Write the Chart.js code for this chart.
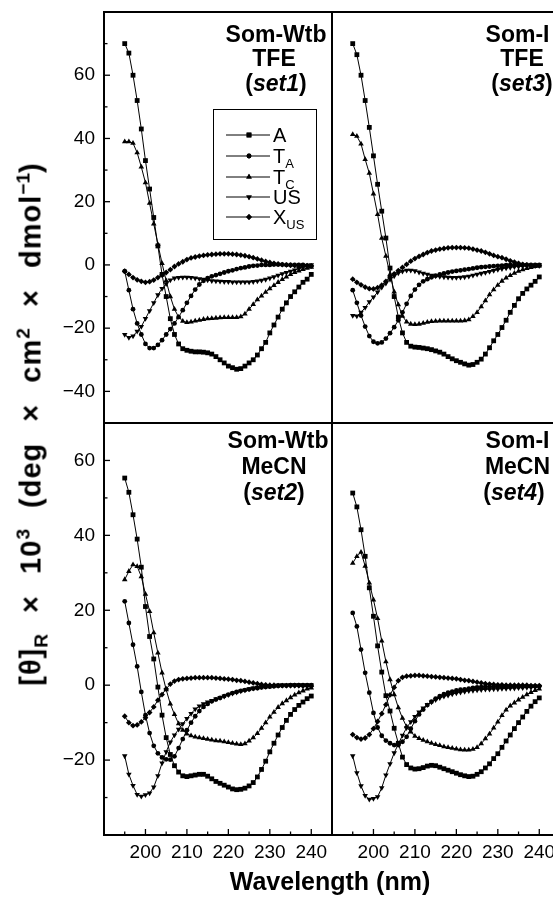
<!DOCTYPE html>
<html><head><meta charset="utf-8">
<script src="https://cdn.jsdelivr.net/npm/chart.js@4.4.1/dist/chart.umd.min.js"></script>
<style>
html,body{margin:0;padding:0;background:#fff;}
#wrap{position:relative;width:553px;height:900px;overflow:hidden;background:#fff;}
canvas{position:absolute;}
#ytitle{position:absolute;left:31px;top:424px;transform:translate(-50%,-50%) rotate(-90deg);white-space:nowrap;font:bold 29px "Liberation Sans",Arial,sans-serif;letter-spacing:1px;word-spacing:12px;color:#000;line-height:1;}
#ytitle sub,#ytitle sup{font-size:0.66em;line-height:0;letter-spacing:0;}
#xtitle{position:absolute;left:330px;top:869px;transform:translateX(-50%);white-space:nowrap;font:bold 25px "Liberation Sans",Arial,sans-serif;color:#000;line-height:1;}
</style></head><body>
<div id="wrap">
<canvas id="cTL" width="340" height="432" style="left:0px;top:0px;width:340px;height:432px"></canvas>
<canvas id="cTR" width="244" height="432" style="left:324px;top:0px;width:244px;height:432px"></canvas>
<canvas id="cBL" width="340" height="485" style="left:0px;top:415px;width:340px;height:485px"></canvas>
<canvas id="cBR" width="244" height="485" style="left:324px;top:415px;width:244px;height:485px"></canvas>
<div id="ytitle">[θ]<sub>R</sub> × 10<sup>3</sup> (deg × cm<sup>2</sup> × dmol<sup>−1</sup>)</div>
<div id="xtitle">Wavelength (nm)</div>
</div>
<script>
// ---------- data ----------
const wavelengths = [195,196,197,198,199,200,201,202,203,204,205,206,207,208,209,210,211,212,213,214,215,216,217,218,219,220,221,222,223,224,225,226,227,228,229,230,231,232,233,234,235,236,237,238,239,240];
const seriesNames = ['A','T_A','T_C','US','X_US'];
const xTickLabels = [200,210,220,230,240];
const yTickLabelsTop = [-40,-20,0,20,40,60];
const yTickLabelsBottom = [-20,0,20,40,60];

// set1: Som-Wtb, TFE
const set1A  = [70,67,60,52,43,33,24,15,6,-3,-10,-17,-22,-25,-26.5,-27,-27.3,-27.5,-27.5,-27.6,-27.8,-28.2,-29,-30,-31,-32,-32.5,-33,-32.8,-32,-31,-30,-28.5,-26.5,-24.5,-21.5,-19,-16.5,-14,-12,-10,-8.5,-7,-5.5,-4.5,-3];
const set1TA = [-2,-8,-14,-18.5,-22,-25,-26.3,-26.3,-25.3,-23.8,-22,-20.3,-18.5,-16.5,-14.3,-12,-9.8,-7.8,-6.2,-5,-4.2,-3.6,-3.2,-2.8,-2.4,-2,-1.7,-1.3,-1,-0.8,-0.5,-0.3,-0.2,0,0,0,0.1,0.1,0.1,0,0,0,0,0,-0.2,-0.4];
const set1TC = [39,39,38.5,35.5,31,26,19.5,13,6.5,0.5,-5,-10,-14,-16.5,-17.8,-18.2,-18,-17.7,-17.5,-17.2,-17,-16.9,-16.8,-16.7,-16.6,-16.6,-16.6,-16.6,-16.4,-15.5,-14,-12.5,-11,-9.8,-8.6,-7.5,-6.5,-5.5,-4.6,-3.8,-3,-2.4,-1.9,-1.4,-1,-0.7];
const set1US = [-22,-23,-22.5,-21,-19.5,-17,-14.5,-12,-9.5,-7.5,-6,-4.8,-4.2,-4,-3.9,-3.9,-4,-4.2,-4.4,-4.6,-4.8,-5,-5.1,-5.2,-5.3,-5.3,-5.4,-5.4,-5.4,-5.4,-5.4,-5.3,-5.1,-4.9,-4.6,-4.2,-3.8,-3.3,-2.8,-2.4,-2,-1.6,-1.2,-0.8,-0.4,0];
const set1XUS = [-2,-3,-4,-4.7,-5.2,-5.5,-5.3,-4.8,-4,-3.2,-2.4,-1.5,-0.5,0.3,1,1.7,2.2,2.5,2.8,3,3.2,3.3,3.4,3.5,3.5,3.5,3.4,3.3,3.1,2.9,2.6,2.3,1.9,1.5,1.1,0.8,0.5,0.3,0.1,0,-0.1,-0.2,-0.2,-0.2,-0.2,-0.3];

// set3: Som-I, TFE
const set3A  = [70,66.5,60,52,43.5,34.5,25.5,17,8.5,-1,-10,-16.5,-21.5,-24.5,-25.7,-26,-26.1,-26.3,-26.5,-26.8,-27.2,-27.6,-28.2,-29,-29.7,-30.3,-30.8,-31.3,-31.7,-31.5,-30.8,-29.8,-28.2,-26.2,-24,-22,-19.8,-17.5,-15,-12.8,-10.7,-9,-7.6,-6.4,-5.2,-3.8];
const set3TA = [-8,-12,-16,-19.5,-22.5,-24.3,-24.8,-24.5,-23.3,-21.6,-19.7,-17.5,-15,-12.3,-9.8,-7.8,-6.3,-5.2,-4.5,-3.9,-3.4,-3,-2.7,-2.4,-2.1,-1.9,-1.7,-1.5,-1.3,-1.1,-0.9,-0.7,-0.6,-0.5,-0.4,-0.3,-0.2,-0.1,0,0,0,0,0,0,0,0];
const set3TC = [41.3,40.7,38.3,33.4,29,22.5,16,8.5,2.8,-3,-8.5,-12.6,-16.2,-18,-18.7,-18.8,-18.7,-18.4,-18.1,-17.9,-17.8,-17.7,-17.7,-17.7,-17.7,-17.7,-17.7,-17.6,-17.3,-16.3,-15,-13.2,-11.3,-9.4,-7.8,-6.4,-5.1,-4.1,-3.3,-2.6,-2,-1.5,-1.1,-0.8,-0.5,-0.3];
const set3US = [-16,-16.2,-15,-13.5,-11.7,-10.2,-8.6,-7.1,-5.8,-4.6,-3.5,-2.6,-2,-1.7,-1.7,-1.9,-2.3,-2.7,-3,-3.3,-3.5,-3.7,-3.8,-3.9,-4,-4,-3.9,-3.8,-3.6,-3.3,-3,-2.7,-2.4,-2.1,-1.8,-1.5,-1.2,-1,-0.8,-0.6,-0.5,-0.4,-0.3,-0.2,-0.1,0];
const set3XUS = [-4.5,-5.5,-6.3,-7,-7.5,-7.6,-7.2,-6.4,-5.2,-3.8,-2.8,-1.8,-0.8,0.2,1.2,2,2.7,3.3,3.9,4.4,4.7,5,5.2,5.4,5.5,5.5,5.5,5.4,5.3,5,4.7,4.4,4,3.5,3,2.6,2.3,1.8,1.3,0.9,0.5,0.2,0,-0.2,-0.3,-0.3];

// set2: Som-Wtb, MeCN
const set2A  = [55.3,51.5,45.5,39,31.5,21,13,7,-0.5,-8,-14,-18.5,-21.5,-23.2,-24.2,-24.4,-24.2,-24,-23.8,-23.8,-24.3,-25,-25.7,-26.2,-26.7,-27.2,-27.7,-27.9,-27.8,-27.5,-26.9,-26,-24.5,-22.5,-20.3,-17.8,-15.5,-13.3,-11.3,-9.4,-7.8,-6.5,-5.4,-4.5,-3.6,-2.9];
const set2TA = [22.4,16.6,10.8,5,-1.8,-8,-12.8,-16.2,-18.2,-19.3,-19.8,-19.9,-19,-16.8,-14.4,-12,-10,-8.3,-6.9,-5.8,-5,-4.3,-3.8,-3.4,-2.9,-2.5,-2.1,-1.8,-1.5,-1.3,-1.1,-0.9,-0.8,-0.6,-0.5,-0.4,-0.3,-0.2,-0.1,-0.1,0,0,0,0,0,0];
const set2TC = [28.2,30.4,32.2,31.7,29,24.3,19.7,14,8.6,3.3,-1.2,-5,-7.8,-10.3,-12,-13,-13.5,-13.8,-14,-14.2,-14.4,-14.6,-14.8,-14.9,-15.1,-15.3,-15.5,-15.7,-15.8,-15.6,-14.9,-14,-12.9,-11.5,-10,-8.5,-7.2,-5.9,-4.9,-4.1,-3.3,-2.6,-2,-1.5,-1,-0.7];
const set2US = [-18.9,-23.8,-26.8,-29.2,-29.7,-29.3,-28.8,-27.2,-24.2,-20.8,-17.8,-15.2,-13.3,-11.8,-10.3,-8.9,-7.6,-6.4,-5.6,-5,-4.5,-4.1,-3.7,-3.3,-3,-2.6,-2.2,-1.9,-1.6,-1.3,-1,-0.8,-0.6,-0.4,-0.3,-0.2,-0.1,0,0,0,0,0,0,0,0,0];
const set2XUS = [-8.3,-10,-10.8,-10.6,-9.8,-8.7,-7.3,-5.8,-4,-2.5,-1,0.3,1.1,1.5,1.7,1.8,1.9,2,2,2,2,2,1.9,1.8,1.7,1.6,1.5,1.3,1.2,1,0.8,0.6,0.4,0.2,0.1,0,0,-0.1,-0.1,-0.1,-0.1,-0.1,-0.1,-0.2,-0.2,-0.3];

// set4: Som-I, MeCN
const set4A  = [51.3,47.6,41.5,34.4,26,18.4,10.5,3.5,-2.8,-6.9,-11.5,-15.5,-19.2,-21.2,-22.1,-22.4,-22.3,-22,-21.6,-21.4,-21.5,-21.9,-22.3,-22.7,-23.1,-23.5,-23.9,-24.2,-24.4,-24.3,-23.8,-23.1,-22.1,-21,-19.6,-18.3,-16.6,-14.9,-13.3,-11.6,-10,-8.5,-7,-5.6,-4.4,-3.4];
const set4TA = [19.3,15.7,9.5,3.3,-2,-7.4,-11.3,-13.5,-14.8,-15.5,-16,-16,-15.1,-13.8,-11.6,-9.6,-7.8,-6.5,-5.3,-4.4,-3.6,-2.9,-2.4,-2,-1.7,-1.4,-1.2,-1.1,-0.9,-0.7,-0.6,-0.5,-0.4,-0.4,-0.3,-0.3,-0.3,-0.3,-0.3,-0.3,-0.3,-0.3,-0.3,-0.3,-0.3,-0.3];
const set4TC = [32.6,34.4,35.5,31.8,27.3,22.8,17.8,11.8,6.3,1.5,-2.5,-6,-8.8,-11.1,-12.5,-13.6,-14.2,-14.7,-15.1,-15.5,-15.8,-16.1,-16.4,-16.6,-16.8,-17,-17.2,-17.3,-17.3,-17.1,-16.6,-15.6,-14.3,-13,-11.4,-9.8,-8.1,-6.6,-5.5,-4.7,-3.9,-3.2,-2.5,-1.9,-1.4,-1];
const set4US = [-18.9,-23.4,-26.9,-29.5,-30.5,-30.3,-29.8,-27.4,-24,-21,-18.1,-15.7,-13.4,-11.4,-9.8,-8.4,-7.2,-6.1,-5.2,-4.5,-3.9,-3.4,-3,-2.7,-2.4,-2.1,-1.9,-1.7,-1.5,-1.4,-1.3,-1.2,-1.1,-1.1,-1,-1,-0.9,-0.9,-0.8,-0.8,-0.7,-0.7,-0.6,-0.6,-0.5,-0.5];
const set4XUS = [-13.2,-14,-14.4,-14.1,-13.2,-11.6,-9.7,-7.6,-5.2,-2.6,-0.6,1.2,2.1,2.4,2.5,2.6,2.6,2.5,2.4,2.3,2.2,2.1,2,1.9,1.8,1.7,1.5,1.3,1.2,1,0.8,0.6,0.4,0.3,0.2,0.1,0.1,0,0,0,0,0,0,-0.1,-0.1,-0.1];

const titleTL = ['Som-Wtb','TFE','set1'];
const titleTR = ['Som-I','TFE','set3'];
const titleBL = ['Som-Wtb','MeCN','set2'];
const titleBR = ['Som-I','MeCN','set4'];

// ---------- styles ----------
const FONT = '"Liberation Sans", Arial, sans-serif';
const markerStyle = ['rect','circle','triangle','triangle','rectRot'];
const markerRadius = [3.4,2.4,3.2,3.2,2.9];
const markerRot = [0,0,0,180,0];

function minusFmt(v){ return v < 0 ? '\u2212' + Math.abs(v) : String(v); }

function drawTitle(ctx, lines, offX, offY){
  ctx.fillStyle = '#000';
  ctx.textBaseline = 'alphabetic';
  lines.forEach(L => {
    const parts = L.parts;
    let w = 0;
    parts.forEach(p => { ctx.font = (p.i ? 'italic ' : '') + 'bold 23px ' + FONT; p.w = ctx.measureText(p.t).width; w += p.w; });
    let x = L.cx - offX - w / 2;
    parts.forEach(p => { ctx.font = (p.i ? 'italic ' : '') + 'bold 23px ' + FONT; ctx.textAlign = 'left'; ctx.fillText(p.t, x, L.y - offY); x += p.w; });
  });
}

function titleLines(t, cxs, ys){
  return [
    {parts:[{t:t[0]}], cx:cxs[0], y:ys[0]},
    {parts:[{t:t[1]}], cx:cxs[1], y:ys[1]},
    {parts:[{t:'('},{t:t[2],i:true},{t:')'}], cx:cxs[2], y:ys[2]}
  ];
}

function drawLegend(ctx){
  ctx.strokeStyle = '#000'; ctx.lineWidth = 1;
  ctx.strokeRect(213.5, 109.5, 103, 130);
  const ys = [135, 156, 177, 197, 217];
  const labels = [['A',''],['T','A'],['T','C'],['US',''],['X','US']];
  ys.forEach((y, k) => {
    ctx.lineWidth = 1;
    ctx.beginPath(); ctx.moveTo(226, y); ctx.lineTo(270, y); ctx.stroke();
    ctx.fillStyle = '#000';
    Chart.helpers.drawPoint(ctx, {pointStyle: markerStyle[k], radius: markerRadius[k], rotation: markerRot[k], borderWidth: 0}, 249, y);
    ctx.fill();
    ctx.textAlign = 'left'; ctx.textBaseline = 'alphabetic';
    ctx.font = '20px ' + FONT;
    ctx.fillText(labels[k][0], 273, y + 7);
    if (labels[k][1]) {
      const w = ctx.measureText(labels[k][0]).width;
      ctx.font = '13px ' + FONT;
      ctx.fillText(labels[k][1], 273 + w, y + 12);
    }
  });
}

function panelPlugin(cfg){
  return {
    id: 'panel_' + cfg.key,
    afterDraw(chart){
      const ctx = chart.ctx, a = chart.chartArea, xs = chart.scales.x, ys = chart.scales.y;
      ctx.save();
      ctx.strokeStyle = '#000';
      ctx.lineWidth = 1.3;
      if (cfg.leftTicks) {
        for (let v = Math.ceil(ys.min / 10) * 10; v <= ys.max; v += 10) {
          const p = ys.getPixelForValue(v);
          const len = (v % 20 === 0) ? 6 : 3.5;
          ctx.beginPath(); ctx.moveTo(a.left, p); ctx.lineTo(a.left + len, p); ctx.stroke();
        }
      }
      if (cfg.bottomTicks) {
        for (let v = 195; v <= 240; v += 5) {
          const p = xs.getPixelForValue(v);
          const len = (v % 10 === 0) ? 6 : 3.5;
          ctx.beginPath(); ctx.moveTo(p, a.bottom); ctx.lineTo(p, a.bottom - len); ctx.stroke();
        }
      }
      ctx.lineWidth = 2;
      ctx.strokeRect(a.left, a.top, a.right - a.left, a.bottom - a.top);
      drawTitle(ctx, cfg.titles, cfg.offX, cfg.offY);
      if (cfg.legend) drawLegend(ctx);
      ctx.restore();
    }
  };
}

function makeChart(cfg){
  const datasets = cfg.series.map((arr, k) => ({
    label: seriesNames[k],
    data: wavelengths.map((w, i) => ({x: w, y: arr[i]})),
    borderColor: '#000', backgroundColor: '#000', borderWidth: 1,
    pointStyle: markerStyle[k], pointRadius: markerRadius[k], pointRotation: markerRot[k],
    pointBorderWidth: 0, pointBackgroundColor: '#000', tension: 0, fill: false
  }));
  const yLabels = cfg.yLabels;
  return new Chart(document.getElementById(cfg.id), {
    type: 'line',
    data: {datasets},
    options: {
      responsive: false, animation: false, events: [],
      layout: {padding: cfg.padding},
      plugins: {legend: {display: false}, tooltip: {enabled: false}},
      scales: {
        x: {
          type: 'linear', min: 190, max: 245, display: cfg.showX,
          grid: {display: false, drawTicks: false}, border: {display: false},
          ticks: {stepSize: 10, includeBounds: false, autoSkip: false, maxRotation: 0, minRotation: 0, padding: 6, color: '#000',
                  font: {family: FONT, size: 19},
                  callback: v => xTickLabels.includes(v) ? String(v) : ''},
          afterFit: s => { if (cfg.showX) s.height = 65; s.paddingLeft = 0; s.paddingRight = 0; }
        },
        y: {
          type: 'linear', min: cfg.ymin, max: cfg.ymax, display: cfg.showY,
          grid: {display: false, drawTicks: false}, border: {display: false},
          ticks: {stepSize: 20, includeBounds: false, autoSkip: false, padding: 9, color: '#000',
                  font: {family: FONT, size: 19},
                  callback: v => yLabels.includes(v) ? minusFmt(v) : ''},
          afterFit: s => { if (cfg.showY) s.width = 104; s.paddingTop = 0; s.paddingBottom = 0; }
        }
      }
    },
    plugins: [panelPlugin(cfg)]
  });
}

makeChart({key:'TL', id:'cTL', series:[set1A,set1TA,set1TC,set1US,set1XUS], ymin:-50, ymax:80,
  yLabels:yTickLabelsTop, showX:false, showY:true, padding:{left:0,top:12,right:8,bottom:9},
  leftTicks:true, bottomTicks:false, legend:true, offX:0, offY:0,
  titles: titleLines(titleTL, [276,274,276], [41.5,66,90.5])});
makeChart({key:'TR', id:'cTR', series:[set3A,set3TA,set3TC,set3US,set3XUS], ymin:-50, ymax:80,
  yLabels:yTickLabelsTop, showX:false, showY:false, padding:{left:8,top:12,right:8,bottom:9},
  leftTicks:false, bottomTicks:false, legend:false, offX:324, offY:0,
  titles: titleLines(titleTR, [517.5,522,522], [41.5,66,90.5])});
makeChart({key:'BL', id:'cBL', series:[set2A,set2TA,set2TC,set2US,set2XUS], ymin:-40, ymax:70,
  yLabels:yTickLabelsBottom, showX:true, showY:true, padding:{left:0,top:8,right:8,bottom:0},
  leftTicks:true, bottomTicks:true, legend:false, offX:0, offY:415,
  titles: titleLines(titleBL, [278,274,274], [447.5,473.5,500])});
makeChart({key:'BR', id:'cBR', series:[set4A,set4TA,set4TC,set4US,set4XUS], ymin:-40, ymax:70,
  yLabels:yTickLabelsBottom, showX:true, showY:false, padding:{left:8,top:8,right:8,bottom:0},
  leftTicks:false, bottomTicks:true, legend:false, offX:324, offY:415,
  titles: titleLines(titleBR, [517.5,517.5,514], [447.5,473.5,500])});
</script>
</body></html>
